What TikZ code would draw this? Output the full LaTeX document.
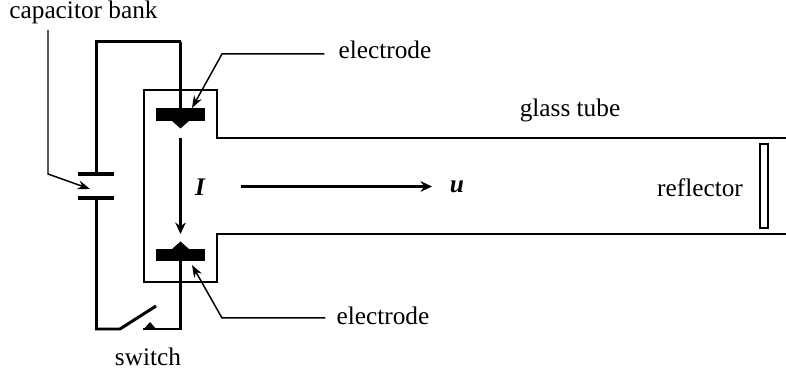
\documentclass[tikz,border=0pt]{standalone}
\usepackage{fontspec}
\setmainfont{Liberation Serif}
\usetikzlibrary{arrows.meta}
\tikzset{
	lbl/.style={inner sep=0pt,font=\fontsize{14.4pt}{16pt}\selectfont},
	sym/.style={inner sep=0pt,font=\fontsize{14.4pt}{16pt}\selectfont\bfseries\itshape},
	wire/.style={line width=1.7pt,line join=miter},
	wall/.style={line width=1.15pt},
	leader/.style={line width=0.85pt,-{Stealth[length=7pt,width=5pt]}},
	flow/.style={line width=1.3pt,-{Stealth[length=6.5pt,width=6pt]}},
	plate/.style={fill=black,draw=none}
}
\begin{document}
\begin{tikzpicture}[x=0.2mm,y=-0.2mm]
	\useasboundingbox (0,0) rectangle (786,372);
	% labels
	\node[lbl] (bank) at (83.5,12) {capacitor bank};
	\node[lbl] (topel) at (385,50) {electrode};
	\node[lbl] (botel) at (383,316) {electrode};
	\node[lbl] (tube) at (570,110) {glass tube};
	\node[lbl] (refl) at (700,188) {reflector};
	\node[lbl] (swl) at (148,357) {switch};
	\node[sym] (cur) at (200,187) {I};
	\node[sym] (vel) at (457,187) {u};
	% points
	\coordinate (a) at (180.5,42);
	\coordinate (b) at (96.5,42);
	\coordinate (c) at (96.5,174);
	\coordinate (d) at (96.5,198);
	\coordinate (e) at (96.5,329);
	\coordinate (f) at (120,329);
	\coordinate (g) at (156,306);
	\coordinate (h) at (143,329);
	\coordinate (k) at (180.5,329);
	% tube wall
	\draw[wall] (786,138) -- (217,138) -- (217,90) -- (144,90) -- (144,282) -- (217,282) -- (217,234) -- (786,234);
	% circuit
	\draw[wire] (a) -- (180.5,112);
	\draw[wire] (a) -- (b) -- (c);
	\draw[wire] (d) -- (e) -- (f) -- (g);
	\draw[wire] (h) -- (k) -- (180.5,255);
	% capacitor
	\draw[line width=2.2pt] (78,174) -- (114,174);
	\draw[line width=2.2pt] (78,198) -- (114,198);
	% electrodes
	\fill[plate] (156,108) rectangle (205,121);
	\fill[plate] (172,121) -- (180.5,128.5) -- (189,121) -- cycle;
	\fill[plate] (156,249) rectangle (205,261.5);
	\fill[plate] (172,249) -- (180.5,241.5) -- (189,249) -- cycle;
	% switch contact
	\fill[plate] (143,330) -- (150,322) -- (157,330) -- cycle;
	% reflector
	\draw[wall] (760,144) rectangle (768,228);
	% I and u
	\draw[flow] (180.5,138) -- (180.5,234);
	\draw[flow] (240.5,186.5) -- (432,186.5);
	% leaders
	\draw[leader] (bank.south) ++(-35.5,6) -- (48,174) -- (90,189);
	\draw[leader] (topel.west) ++(-14,4) -- (222,54) -- (192,108);
	\draw[leader] (botel.west) ++(-11,2) -- (222,318) -- (192,265);
\end{tikzpicture}
\end{document}
